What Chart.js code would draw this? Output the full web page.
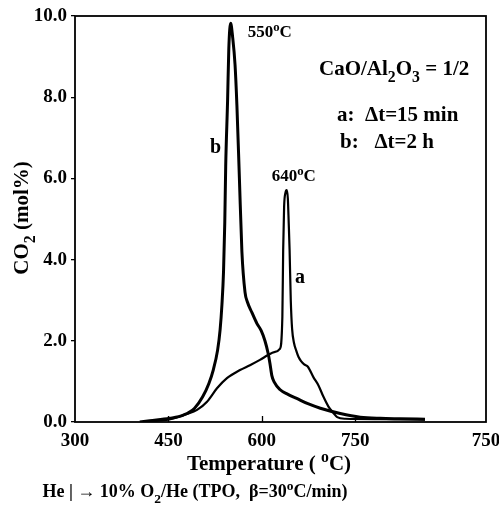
<!DOCTYPE html>
<html>
<head>
<meta charset="utf-8">
<script src="https://cdn.jsdelivr.net/npm/chart.js@4.4.1/dist/chart.umd.min.js"></script>
<style>
  html, body { margin: 0; padding: 0; background: #fff; }
  #tpo { display: block; }
</style>
</head>
<body>
<canvas id="tpo" width="499" height="506"></canvas>
<script>
// TPO traces, CO2 (mol%) vs temperature (oC)
const bTemp = [404, 420, 452, 474, 492, 505, 515, 522, 529, 533, 536, 538.5, 540.5, 542, 545, 547, 550, 553, 557, 560, 564, 568, 573, 577, 584, 592, 599, 605, 610, 613, 616, 620, 629, 642, 656, 674, 694, 726, 758, 790, 822, 862];
const bCO2 = [0.00, 0.03, 0.09, 0.17, 0.34, 0.62, 0.95, 1.28, 1.77, 2.27, 2.9, 3.7, 4.9, 6.3, 7.9, 9.2, 9.82, 9.5, 8.8, 7.8, 6.0, 4.2, 3.2, 2.95, 2.7, 2.43, 2.25, 2.0, 1.7, 1.45, 1.15, 0.98, 0.8, 0.68, 0.58, 0.45, 0.34, 0.21, 0.12, 0.09, 0.08, 0.07];

const aTemp = [420, 447, 480, 496, 512, 528, 544, 565, 581, 597, 610, 620, 629, 633, 634.3, 635.8, 638, 640, 641.8, 643.2, 644.6, 646.5, 648.6, 651.8, 655, 659, 663, 668, 674, 683, 691, 699, 707, 715, 721, 734, 790, 862];
const aCO2 = [0.02, 0.05, 0.2, 0.3, 0.5, 0.83, 1.08, 1.28, 1.4, 1.53, 1.65, 1.72, 1.8, 2.6, 4.24, 5.3, 5.65, 5.71, 5.5, 4.9, 4.24, 3.0, 2.3, 1.94, 1.77, 1.6, 1.5, 1.42, 1.36, 1.1, 0.9, 0.62, 0.38, 0.22, 0.12, 0.08, 0.07, 0.06];

const xTickValues = [300, 450, 600, 750, 960];
const xTickLabels = ["300", "450", "600", "750", "750"];
const peakB = 550;
const peakA = 640;

const serif = "'Liberation Serif', 'Times New Roman', serif";

function toPoints(xs, ys) {
  let pts = [];
  for (let i = 0; i < xs.length; ++i) {
    pts.push({ x: xs[i], y: ys[i] });
  }
  return pts;
}

// draws text made of normal / sub / sup pieces, baseline at y
function drawRich(ctx, parts, x, y, size, align) {
  let widths = [];
  let total = 0;
  parts.forEach(function (p) {
    let s = p[1] === "n" ? size : size * 0.75;
    ctx.font = `bold ${s}px ${serif}`;
    let w = ctx.measureText(p[0]).width;
    widths.push(w);
    total += w;
  });
  let cx = x;
  if (align === "center") cx = x - total / 2;
  if (align === "right") cx = x - total;
  ctx.textAlign = "left";
  ctx.textBaseline = "alphabetic";
  parts.forEach(function (p, i) {
    let s = p[1] === "n" ? size : size * 0.75;
    let dy = 0;
    if (p[1] === "sub") dy = size * 0.32;
    if (p[1] === "sup") dy = -size * 0.38;
    ctx.font = `bold ${s}px ${serif}`;
    ctx.fillText(p[0], cx, y + dy);
    cx += widths[i];
  });
}

const framePlugin = {
  id: "frameAndText",
  afterDraw(chart) {
    const ctx = chart.ctx;
    const area = chart.chartArea;
    const xs = chart.scales.x;
    ctx.save();
    ctx.strokeStyle = "#000";
    ctx.fillStyle = "#000";

    // box round the plot
    ctx.lineWidth = 1.8;
    ctx.strokeRect(area.left, area.top, area.right - area.left, area.bottom - area.top);

    // x ticks point inwards
    ctx.lineWidth = 1.3;
    xTickValues.slice(1, 4).forEach(function (v) {
      let px = Math.round(xs.getPixelForValue(v)) + 0.5;
      ctx.beginPath();
      ctx.moveTo(px, area.bottom);
      ctx.lineTo(px, area.bottom - 6);
      ctx.stroke();
    });

    // axis titles
    drawRich(ctx, [["Temperature ( ", "n"], ["o", "sup"], ["C)", "n"]], 269, 470, 21, "center");
    drawRich(ctx, [["He | \u2192 10% O", "n"], ["2", "sub"], ["/He (TPO,  \u03B2=30", "n"], ["o", "sup"], ["C/min)", "n"]], 195, 497, 18, "center");

    ctx.save();
    ctx.translate(28, 218);
    ctx.rotate(-Math.PI / 2);
    drawRich(ctx, [["CO", "n"], ["2", "sub"], [" (mol%)", "n"]], 0, 0, 21, "center");
    ctx.restore();

    // peak labels
    let bx = xs.getPixelForValue(peakB);
    let ax = xs.getPixelForValue(peakA);
    drawRich(ctx, [[String(peakB), "n"], ["o", "sup"], ["C", "n"]], bx + 17, 37, 17, "left");
    drawRich(ctx, [[String(peakA), "n"], ["o", "sup"], ["C", "n"]], ax + 7, 181, 17, "center");

    drawRich(ctx, [["b", "n"]], 210, 153, 20, "left");
    drawRich(ctx, [["a", "n"]], 295, 283, 20, "left");

    drawRich(ctx, [["CaO/Al", "n"], ["2", "sub"], ["O", "n"], ["3", "sub"], [" = 1/2", "n"]], 319, 75, 21, "left");
    drawRich(ctx, [["a:  \u0394t=15 min", "n"]], 337, 121, 21, "left");
    drawRich(ctx, [["b:   \u0394t=2 h", "n"]], 340, 148, 21, "left");

    ctx.restore();
  },
};

const ctx = document.getElementById("tpo").getContext("2d");

new Chart(ctx, {
  type: "line",
  data: {
    datasets: [
      {
        label: "b",
        data: toPoints(bTemp, bCO2),
        borderColor: "#000",
        borderWidth: 3,
        pointRadius: 0,
        cubicInterpolationMode: "monotone",
        fill: false,
      },
      {
        label: "a",
        data: toPoints(aTemp, aCO2),
        borderColor: "#000",
        borderWidth: 2.2,
        pointRadius: 0,
        cubicInterpolationMode: "monotone",
        fill: false,
      },
    ],
  },
  options: {
    responsive: false,
    animation: false,
    layout: { padding: { top: 16, right: 13, left: 0, bottom: 0 } },
    plugins: {
      legend: { display: false },
      tooltip: { enabled: false },
    },
    scales: {
      x: {
        type: "linear",
        min: 300,
        max: 960,
        afterBuildTicks(scale) {
          scale.ticks = xTickValues.map(function (v) {
            return { value: v };
          });
        },
        afterFit(scale) {
          scale.height = 84;
          scale.paddingLeft = 0;
          scale.paddingRight = 0;
        },
        grid: { drawOnChartArea: false, drawTicks: false },
        border: { display: false },
        ticks: {
          padding: 8,
          maxRotation: 0,
          autoSkip: false,
          color: "#000",
          font: { family: serif, size: 19, weight: "bold" },
          callback: function (value, index) {
            return xTickLabels[index];
          },
        },
      },
      y: {
        min: 0,
        max: 10,
        afterFit(scale) {
          scale.width = 75;
        },
        grid: {
          drawOnChartArea: false,
          tickLength: 4,
          color: "#000",
          lineWidth: 1.3,
        },
        border: { display: false },
        ticks: {
          stepSize: 2,
          padding: 4,
          color: "#000",
          font: { family: serif, size: 19, weight: "bold" },
          callback: function (value) {
            return value.toFixed(1);
          },
        },
      },
    },
  },
  plugins: [framePlugin],
});
</script>
</body>
</html>
